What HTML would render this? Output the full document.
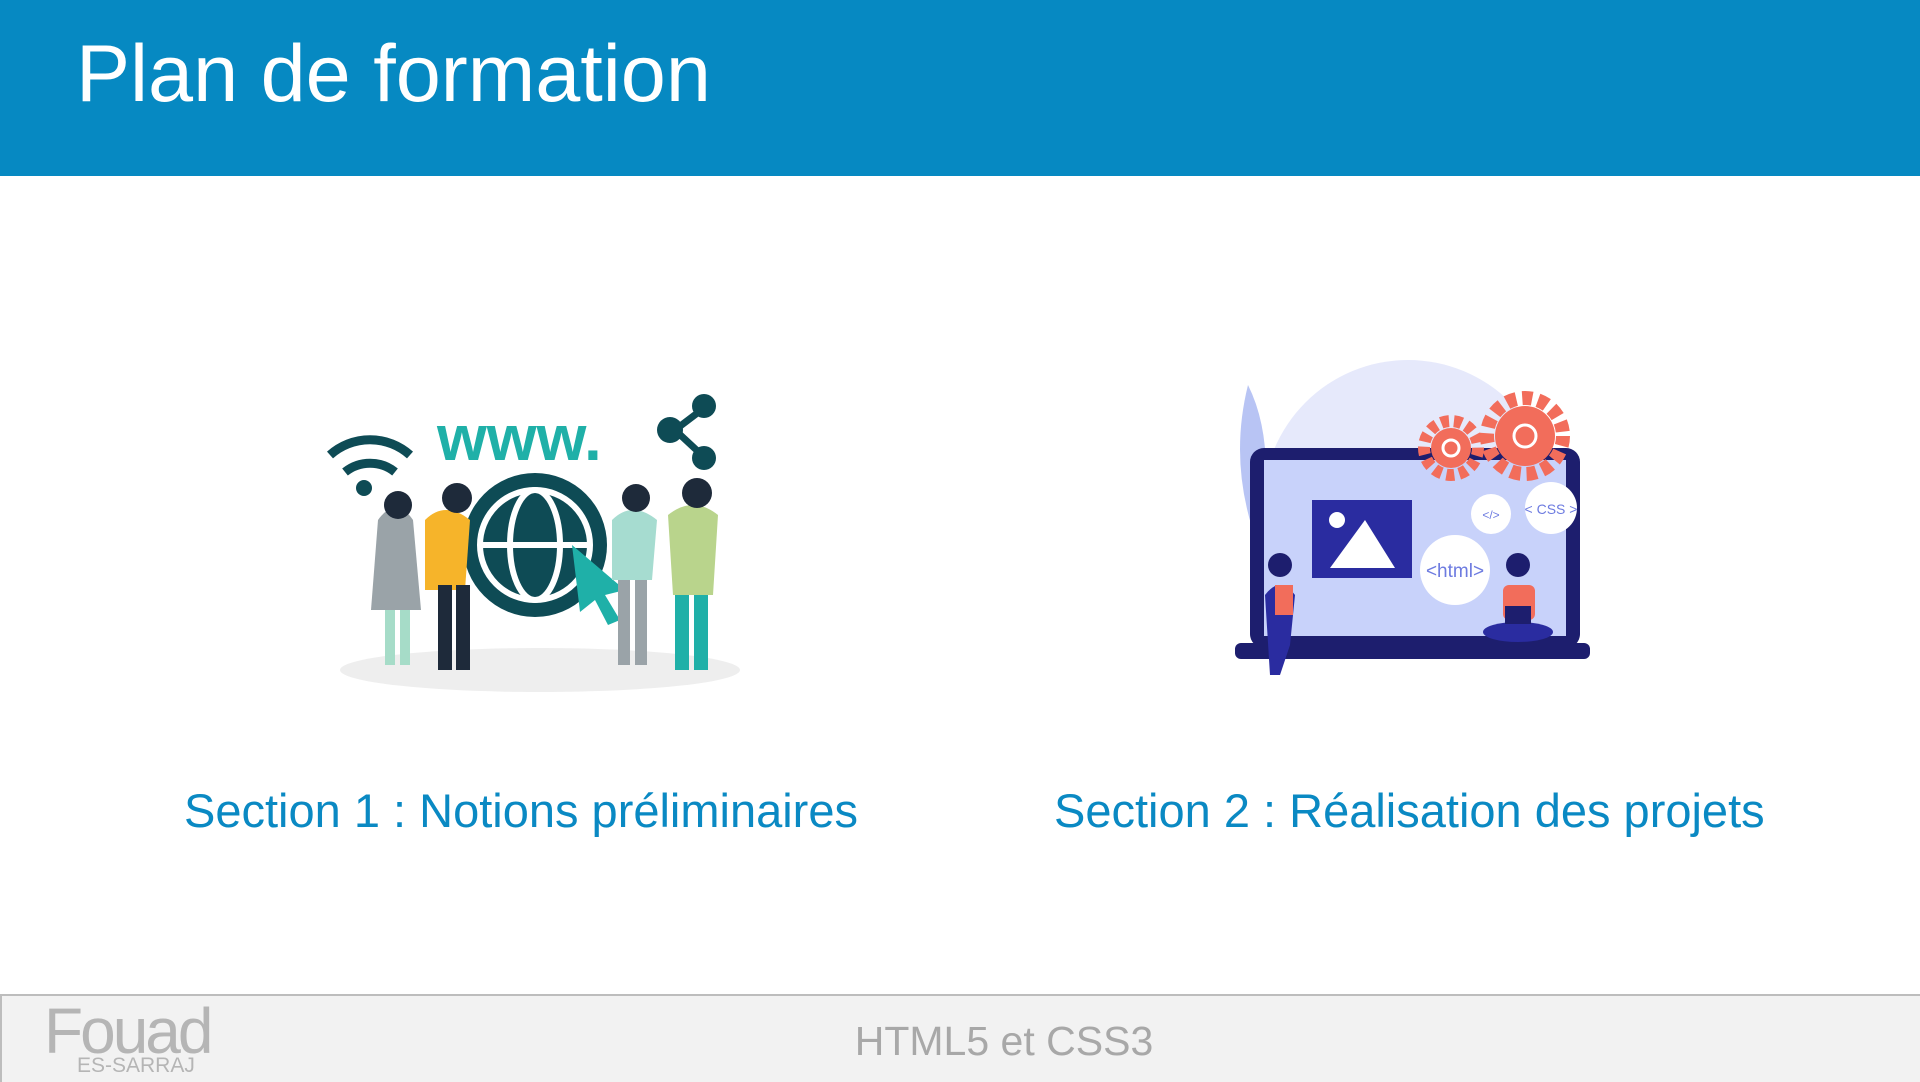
<!DOCTYPE html>
<html><head><meta charset="utf-8"><style>
body{margin:0;width:1920px;height:1080px;position:relative;overflow:hidden;background:#fff;font-family:"Liberation Sans",sans-serif}
.hdr{position:absolute;left:0;top:0;width:1920px;height:176px;background:#0689c2}
.title{position:absolute;left:76px;top:28px;font-size:81px;color:#fff;white-space:nowrap}
.sec{position:absolute;top:783px;font-size:47px;color:#0a89c3;white-space:nowrap}
.ftr{position:absolute;left:0;top:994px;width:1918px;height:86px;background:#f2f2f2;border-top:2px solid #bdbdbd;border-left:2px solid #bdbdbd}
</style></head><body>
<div class="hdr"><div class="title">Plan de formation</div></div>

<svg style="position:absolute;left:0;top:0" width="1920" height="1000">
<ellipse cx="540" cy="670" rx="200" ry="22" fill="#eeeeee"/>
<text x="437" y="460" font-family="Liberation Sans" font-weight="bold" font-size="64" fill="#1fb0a8">www.</text>
<g stroke="#0e4b55" stroke-width="7"><line x1="675" y1="430" x2="704" y2="408"/><line x1="675" y1="430" x2="704" y2="457"/></g>
<circle cx="670" cy="430" r="13" fill="#0e4b55"/><circle cx="704" cy="406" r="12" fill="#0e4b55"/><circle cx="704" cy="458" r="12" fill="#0e4b55"/>
<g fill="none" stroke="#0e4b55" stroke-width="9"><path d="M330 455 A60 60 0 0 1 410 455"/><path d="M345 472 A40 40 0 0 1 395 472"/></g>
<circle cx="364" cy="488" r="8" fill="#0e4b55"/>
<circle cx="535" cy="545" r="72" fill="#0e4b55"/><circle cx="535" cy="545" r="55" fill="none" stroke="#fff" stroke-width="6"/>
<ellipse cx="535" cy="545" rx="25" ry="55" fill="none" stroke="#fff" stroke-width="6"/>
<line x1="480" y1="545" x2="590" y2="545" stroke="#fff" stroke-width="6"/>
<polygon points="572,545 625,590 605,595 620,620 608,625 595,600 580,612" fill="#1fb0a8"/>
<path d="M378 520 q18 -25 35 0 l8 90 h-50 z" fill="#9aa3a8"/><rect x="385" y="610" width="10" height="55" fill="#a6dcc8"/><rect x="400" y="610" width="10" height="55" fill="#a6dcc8"/><circle cx="398" cy="505" r="14" fill="#1e2a3a"/>
<path d="M425 520 q20 -20 45 0 l-5 70 h-40 z" fill="#f6b42a"/><rect x="438" y="585" width="14" height="85" fill="#1e2a3a"/><rect x="456" y="585" width="14" height="85" fill="#1e2a3a"/><circle cx="457" cy="498" r="15" fill="#1e2a3a"/>
<path d="M612 520 q20 -20 45 0 l-5 60 h-40 z" fill="#a6dcd0"/><rect x="618" y="580" width="12" height="85" fill="#9aa3a8"/><rect x="635" y="580" width="12" height="85" fill="#9aa3a8"/><circle cx="636" cy="498" r="14" fill="#1e2a3a"/>
<path d="M668 515 q25 -20 50 0 l-5 80 h-40 z" fill="#b9d48c"/><rect x="675" y="595" width="14" height="75" fill="#1fb0a8"/><rect x="694" y="595" width="14" height="75" fill="#1fb0a8"/><circle cx="697" cy="493" r="15" fill="#1e2a3a"/>
<circle cx="1408" cy="505" r="145" fill="#e6e9fb"/>
<path d="M1248 385 q30 60 10 160 q-30 -80 -10 -160z" fill="#b8c4f4"/>
<rect x="1250" y="448" width="330" height="200" rx="14" fill="#1d1e6e"/>
<rect x="1264" y="460" width="302" height="176" fill="#c8d2fa"/>
<rect x="1235" y="643" width="355" height="16" rx="6" fill="#1d1e6e"/>
<rect x="1312" y="500" width="100" height="78" fill="#2a2ca0"/><polygon points="1330,568 1365,520 1395,568" fill="#fff"/><circle cx="1337" cy="520" r="8" fill="#fff"/>
<circle cx="1455" cy="570" r="35" fill="#fff"/><text x="1455" y="577" text-anchor="middle" font-family="Liberation Sans" font-size="19" fill="#6d7be0">&lt;html&gt;</text>
<circle cx="1491" cy="514" r="20" fill="#fff"/><text x="1491" y="519" text-anchor="middle" font-family="Liberation Sans" font-size="12" fill="#6d7be0">&lt;/&gt;</text>
<circle cx="1551" cy="508" r="26" fill="#fff"/><text x="1551" y="514" text-anchor="middle" font-family="Liberation Sans" font-size="14" fill="#6d7be0">&lt; CSS &gt;</text>
<circle cx="1451" cy="448" r="27" fill="none" stroke="#f26d5b" stroke-width="12" stroke-dasharray="8 5"/><circle cx="1451" cy="448" r="20" fill="#f26d5b"/><circle cx="1451" cy="448" r="8" fill="none" stroke="#fff" stroke-width="3"/>
<circle cx="1525" cy="436" r="38" fill="none" stroke="#f26d5b" stroke-width="14" stroke-dasharray="10 6"/><circle cx="1525" cy="436" r="30" fill="#f26d5b"/><circle cx="1525" cy="436" r="11" fill="none" stroke="#fff" stroke-width="3"/>
<path d="M1265 595 q15 -20 30 0 l-5 50 l-10 30 h-10 z" fill="#2a2ca0"/><circle cx="1280" cy="565" r="12" fill="#1d1e6e"/><rect x="1275" y="585" width="18" height="30" fill="#f26d5b"/>
<circle cx="1518" cy="565" r="12" fill="#1d1e6e"/><rect x="1503" y="585" width="32" height="35" rx="6" fill="#f26d5b"/><ellipse cx="1518" cy="632" rx="35" ry="10" fill="#2a2ca0"/><rect x="1505" y="606" width="26" height="18" fill="#1d1e6e"/>
</svg>

<div class="sec" style="left:184px">Section 1 : Notions préliminaires</div>
<div class="sec" style="left:1054px">Section 2 : Réalisation des projets</div>

<div class="ftr">
<div style="position:absolute;left:42px;top:-2px;font-size:64px;color:#b5b5b5;letter-spacing:-3px">Fouad</div>
<div style="position:absolute;left:75px;top:58px;font-size:21px;color:#b5b5b5">ES-SARRAJ</div>
<div style="position:absolute;left:0;width:2004px;text-align:center;top:22px;font-size:41px;color:#a8a8a8">HTML5 et CSS3</div>
</div>
</body></html>
